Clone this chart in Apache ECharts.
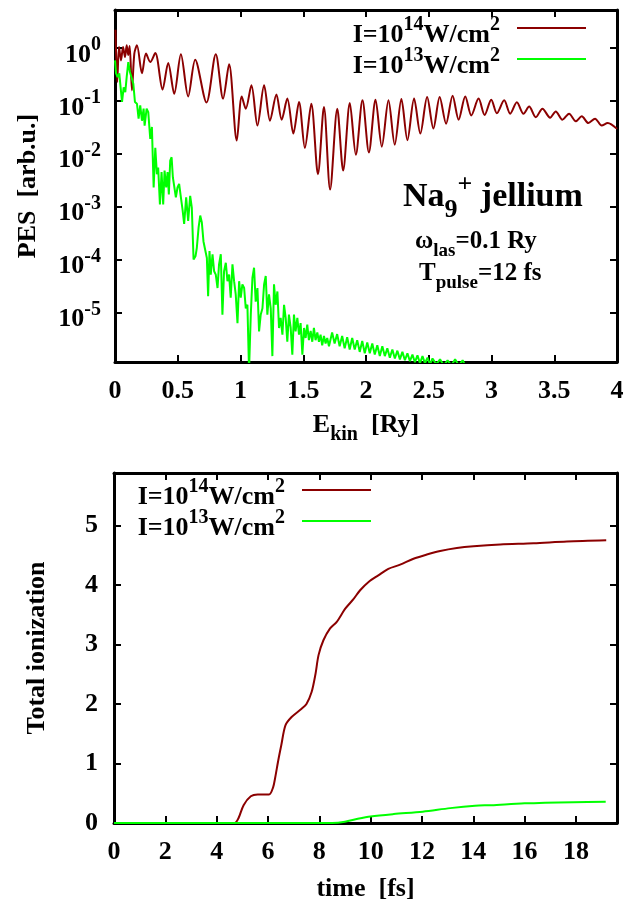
<!DOCTYPE html>
<html><head><meta charset="utf-8">
<script src="https://cdn.jsdelivr.net/npm/echarts@6/dist/echarts.min.js"></script>
<style>html,body{margin:0;padding:0;background:#fff}#c{width:641px;height:903px}</style>
</head><body><div id="c"></div>
<script>
// ---- data ----
const seriesNames = ['I=1e14', 'I=1e13'];
const seriesColors = ['#8b0000', '#00ff00'];
const pesXTicks = [0, 0.5, 1, 1.5, 2, 2.5, 3, 3.5, 4];
const pesYTicks = [1e-5, 1e-4, 1e-3, 1e-2, 1e-1, 1];
const ionXTicks = [0, 2, 4, 6, 8, 10, 12, 14, 16, 18];
const ionYTicks = [0, 1, 2, 3, 4, 5];

// PES, I=1e14 W/cm2
const pesE14 = [0.004,0.018,0.032,0.048,0.064,0.080,0.093,0.106,0.117,0.135,0.154,0.175,0.215,0.247,0.281,0.321,0.379,0.424,0.472,0.525,0.583,0.639,0.729,0.803,0.861,0.909,0.970,1.010,1.042,1.087,1.135,1.188,1.235,1.286,1.328,1.373,1.421,1.466,1.513,1.564,1.617,1.665,1.714,1.771,1.818,1.871,1.919,1.972,2.023,2.076,2.126,2.179,2.229,2.282,2.330,2.383,2.433,2.487,2.537,2.587,2.638,2.690,2.738,2.791,2.839,2.897,2.945,2.998,3.043,3.101,3.149,3.202,3.255,3.300,3.353,3.406,3.467,3.512,3.565,3.618,3.672,3.719,3.772,3.825,3.878,3.926,4.0];
const pesV14 = [2.2,0.226,1.04,0.58,1.04,0.67,1.12,0.73,1.08,0.157,0.78,1.12,0.33,0.78,0.54,0.80,0.163,0.52,0.136,0.76,0.121,0.60,0.093,0.76,0.11,0.49,0.0178,0.121,0.071,0.196,0.034,0.196,0.042,0.132,0.044,0.11,0.024,0.095,0.0129,0.088,0.0041,0.076,0.0021,0.071,0.0048,0.091,0.0096,0.102,0.0106,0.105,0.0136,0.102,0.0148,0.108,0.018,0.11,0.024,0.118,0.030,0.118,0.037,0.125,0.044,0.121,0.053,0.11,0.054,0.105,0.058,0.102,0.057,0.094,0.057,0.078,0.049,0.071,0.048,0.063,0.044,0.057,0.041,0.051,0.038,0.046,0.034,0.038,0.0295];

// PES, I=1e13 W/cm2
const pesE13 = [0.0,0.008,0.021,0.034,0.056,0.069,0.082,0.093,0.106,0.119,0.133,0.146,0.159,0.175,0.188,0.201,0.215,0.228,0.236,0.252,0.265,0.281,0.294,0.308,0.321,0.334,0.344,0.358,0.371,0.384,0.395,0.408,0.419,0.429,0.440,0.451,0.461,0.472,0.485,0.498,0.511,0.525,0.538,0.551,0.567,0.583,0.599,0.612,0.626,0.642,0.652,0.666,0.679,0.692,0.705,0.718,0.732,0.742,0.753,0.763,0.777,0.790,0.803,0.817,0.829,0.843,0.856,0.869,0.883,0.896,0.909,0.922,0.936,0.949,0.962,0.976,0.989,1.002,1.015,1.029,1.042,1.055,1.068,1.082,1.095,1.108,1.121,1.135,1.148,1.161,1.175,1.188,1.201,1.214,1.227,1.241,1.254,1.267,1.280,1.294,1.307,1.320,1.334,1.347,1.360,1.373,1.386,1.400,1.413,1.426,1.439,1.453,1.466,1.479,1.493,1.506,1.519,1.532,1.545,1.559,1.572,1.585,1.598,1.612,1.625,1.638,1.651,1.665,1.678,1.691,1.705,1.73,1.75,1.77,1.79,1.81,1.83,1.85,1.87,1.89,1.91,1.93,1.95,1.97,1.99,2.01,2.03,2.05,2.07,2.09,2.11,2.13,2.15,2.17,2.19,2.21,2.23,2.25,2.27,2.29,2.31,2.33,2.35,2.37,2.39,2.41,2.43,2.45,2.47,2.49,2.51,2.53,2.56,2.59,2.62,2.65,2.68,2.71,2.74,2.77,2.80];
const pesV13 = [0.58,0.33,0.28,0.33,0.095,0.18,0.146,0.28,0.54,0.35,0.33,0.21,0.095,0.088,0.046,0.082,0.042,0.071,0.034,0.071,0.061,0.019,0.032,0.0023,0.013,0.0041,0.0055,0.0011,0.0045,0.0011,0.0048,0.0023,0.0045,0.0017,0.0074,0.0086,0.0036,0.0038,0.0015,0.0023,0.0027,0.0015,0.00089,0.00047,0.0015,0.00054,0.0016,0.00096,0.0001,0.000117,0.000167,0.0004,0.00068,0.0005,0.00022,0.000155,0.000107,2.04e-5,1.45e-4,5.2e-5,1.26e-4,6e-5,5.2e-5,2.9e-5,8.1e-5,1.26e-4,9.1e-6,6e-5,8.7e-5,3.9e-5,5.2e-5,1.9e-5,8.1e-5,3.9e-5,2.2e-5,6.3e-6,3.9e-5,1.9e-5,3.4e-5,2.9e-5,1.2e-5,1.4e-5,8e-7,9.1e-6,4.5e-5,7e-5,1.6e-5,2.9e-5,4.4e-6,9.1e-6,1.2e-5,3.4e-5,4.9e-5,9.1e-6,2.2e-5,1.2e-5,1.5e-6,3.4e-5,1.4e-5,2.5e-5,5.1e-6,7.9e-6,3.8e-6,1.4e-5,7.9e-6,2.8e-6,9.1e-6,5.1e-6,1.6e-6,9.1e-6,4.4e-6,7.9e-6,3.8e-6,6.3e-6,1.6e-6,5.1e-6,3.3e-6,5.9e-6,3.0e-6,4.5e-6,2.8e-6,5.1e-6,3.0e-6,4.2e-6,2.8e-6,3.8e-6,2.4e-6,3.6e-6,2.6e-6,3.3e-6,2.3e-6,4.2e-6,2.6e-6,3.9e-6,2.3e-6,3.6e-6,2.1e-6,3.4e-6,2.0e-6,3.3e-6,2.0e-6,3.0e-6,1.8e-6,2.9e-6,1.7e-6,2.7e-6,1.7e-6,2.6e-6,1.6e-6,2.4e-6,1.5e-6,2.3e-6,1.5e-6,2.1e-6,1.4e-6,2.0e-6,1.35e-6,1.9e-6,1.3e-6,1.8e-6,1.25e-6,1.7e-6,1.2e-6,1.6e-6,1.15e-6,1.55e-6,1.1e-6,1.5e-6,1.1e-6,1.4e-6,1.05e-6,1.35e-6,1.05e-6,1.3e-6,1.0e-6,1.25e-6,1.0e-6,1.3e-6,1.0e-6,1.25e-6,0.9e-6];

// Total ionization
const ionT14 = [0,4.7,4.85,5.05,5.33,5.6,6.04,6.2,6.28,6.4,6.52,6.68,6.92,7.31,7.5,7.7,7.85,7.97,8.16,8.42,8.68,9.01,9.33,9.59,9.92,10.30,10.69,11.15,11.67,12.19,12.71,13.36,14.01,15.05,16.35,17.65,19.18];
const ionV14 = [0,0,0.08,0.3,0.45,0.48,0.48,0.6,0.76,1.05,1.31,1.64,1.78,1.92,2.0,2.2,2.5,2.82,3.07,3.27,3.38,3.60,3.76,3.91,4.05,4.16,4.27,4.34,4.44,4.51,4.57,4.62,4.65,4.68,4.70,4.73,4.75];
const ionT13 = [0,8.5,9.0,9.5,10.0,10.9,12.03,13.1,14.07,14.7,16.0,17.9,19.16];
const ionV13 = [0,0,0.02,0.07,0.11,0.15,0.19,0.25,0.29,0.30,0.33,0.35,0.355];

// ---- styling helpers ----
const FONT = 'Liberation Serif';
function richSet(F, P) {
  const s = Math.round(F * 0.75);
  const base = {fontFamily: FONT, fontWeight: 'bold', color: '#000', verticalAlign: 'top'};
  return {
    m: Object.assign({}, base, {fontSize: F, lineHeight: F, padding: [P, 0, 0, 0]}),
    sup: Object.assign({}, base, {fontSize: s, lineHeight: s, padding: [0, 0, 0, 0]}),
    sub: Object.assign({}, base, {fontSize: s, lineHeight: s, padding: [P + Math.round(F * 0.5), 0, 0, 0]})
  };
}
const F = 26;
const R = richSet(F, 7);
const RA = richSet(25, 6);
const RB = richSet(34, 8);

function zip(a, b) { return a.map((v, i) => [v, b[i]]); }

const axisLineStyle = {show: true, onZero: false, lineStyle: {color: '#000', width: 3}};
const tickStyle = {show: true, inside: true, length: 7, lineStyle: {color: '#000', width: 2}};
const labelFont = {fontFamily: FONT, fontWeight: 'bold', fontSize: F, color: '#000'};

function legendFmt(name) {
  const e = name === seriesNames[0] ? '14' : '13';
  return '{m|I=10}{sup|' + e + '}{m|W/cm}{sup|2}';
}
function legendCfg(right, top) {
  return {
    data: seriesNames, orient: 'vertical', right: right, top: top, align: 'right', padding: 0,
    icon: 'rect', itemWidth: 69, itemHeight: 2, itemGap: -2, selectedMode: false,
    formatter: legendFmt,
    textStyle: {padding: [0, 12, 0, 0], rich: R}
  };
}

const gridTop = {left: 114, top: 10, width: 503, height: 352};
const gridBot = {left: 114, top: 473, width: 503, height: 352};

const option = {
  animation: false,
  backgroundColor: '#fff',
  grid: [gridTop, gridBot],
  legend: [legendCfg(55, 15), legendCfg(270, 477)],
  xAxis: [
    {type: 'value', gridIndex: 0, position: 'bottom', min: 0, max: 4, interval: 0.5,
     axisLine: axisLineStyle, axisTick: tickStyle, splitLine: {show: false},
     axisLabel: Object.assign({margin: 16, customValues: pesXTicks}, labelFont),
     name: '{m|E}{sub|kin}{m|  [Ry]}', nameLocation: 'middle', nameGap: 43,
     nameTextStyle: {rich: R}},
    {type: 'value', gridIndex: 0, position: 'top', min: 0, max: 4, interval: 0.5,
     axisLine: axisLineStyle, axisTick: tickStyle, splitLine: {show: false}, axisLabel: {show: false}},
    {type: 'value', gridIndex: 1, position: 'bottom', min: 0, max: 19.6,
     axisLine: axisLineStyle, axisTick: Object.assign({customValues: ionXTicks}, tickStyle), splitLine: {show: false},
     axisLabel: Object.assign({margin: 16, customValues: ionXTicks}, labelFont),
     name: '{m|time  [fs]}', nameLocation: 'middle', nameGap: 46, nameTextStyle: {rich: R}},
    {type: 'value', gridIndex: 1, position: 'top', min: 0, max: 19.6,
     axisLine: axisLineStyle, axisTick: Object.assign({customValues: ionXTicks}, tickStyle), splitLine: {show: false}, axisLabel: {show: false}}
  ],
  yAxis: [
    {type: 'log', logBase: 10, gridIndex: 0, position: 'left', min: 1.16e-6, max: 5.2,
     axisLine: axisLineStyle, axisTick: Object.assign({customValues: pesYTicks}, tickStyle), splitLine: {show: false},
     minorTick: {show: false},
     axisLabel: {margin: 14, customValues: pesYTicks, rich: R,
       formatter: v => '{m|10}{sup|' + Math.round(Math.log10(v)) + '}'},
     name: '{m|PES  [arb.u.]}', nameLocation: 'middle', nameGap: 81, nameRotate: 90, nameTextStyle: {rich: R}},
    {type: 'log', logBase: 10, gridIndex: 0, position: 'right', min: 1.16e-6, max: 5.2,
     axisLine: axisLineStyle, axisTick: Object.assign({customValues: pesYTicks}, tickStyle), splitLine: {show: false},
     axisLabel: {show: false}},
    {type: 'value', gridIndex: 1, position: 'left', min: 0, max: 5.88,
     axisLine: axisLineStyle, axisTick: Object.assign({customValues: ionYTicks}, tickStyle), splitLine: {show: false},
     axisLabel: Object.assign({margin: 16, customValues: ionYTicks}, labelFont),
     name: '{m|Total ionization}', nameLocation: 'middle', nameGap: 71, nameRotate: 90, nameTextStyle: {rich: R}},
    {type: 'value', gridIndex: 1, position: 'right', min: 0, max: 5.88,
     axisLine: axisLineStyle, axisTick: Object.assign({customValues: ionYTicks}, tickStyle), splitLine: {show: false},
     axisLabel: {show: false}}
  ],
  series: [
    {name: seriesNames[0], type: 'line', xAxisIndex: 0, yAxisIndex: 0, data: zip(pesE14, pesV14),
     showSymbol: false, symbol: 'none', smooth: 0.3, color: seriesColors[0], lineStyle: {width: 2, color: seriesColors[0]}},
    {name: seriesNames[1], type: 'line', xAxisIndex: 0, yAxisIndex: 0, data: zip(pesE13, pesV13),
     showSymbol: false, symbol: 'none', color: seriesColors[1], lineStyle: {width: 2, color: seriesColors[1]}},
    {name: seriesNames[0], type: 'line', xAxisIndex: 2, yAxisIndex: 2, data: zip(ionT14, ionV14),
     showSymbol: false, symbol: 'none', smooth: 0.3, color: seriesColors[0], lineStyle: {width: 2, color: seriesColors[0]}},
    {name: seriesNames[1], type: 'line', xAxisIndex: 2, yAxisIndex: 2, data: zip(ionT13, ionV13),
     showSymbol: false, symbol: 'none', smooth: 0.3, color: seriesColors[1], lineStyle: {width: 2, color: seriesColors[1]}}
  ],
  graphic: [
    {type: 'text', left: 403, top: 172, style: {text: '{m|Na}{sub|9}{sup|+}{m| jellium}', rich: RB}},
    {type: 'text', left: 415, top: 223, style: {text: '{m|ω}{sub|las}{m|=0.1 Ry}', rich: RA}},
    {type: 'text', left: 419, top: 255, style: {text: '{m|T}{sub|pulse}{m|=12 fs}', rich: RA}}
  ]
};

const chart = echarts.init(document.getElementById('c'), null, {renderer: 'canvas'});
chart.setOption(option);
</script></body></html>
